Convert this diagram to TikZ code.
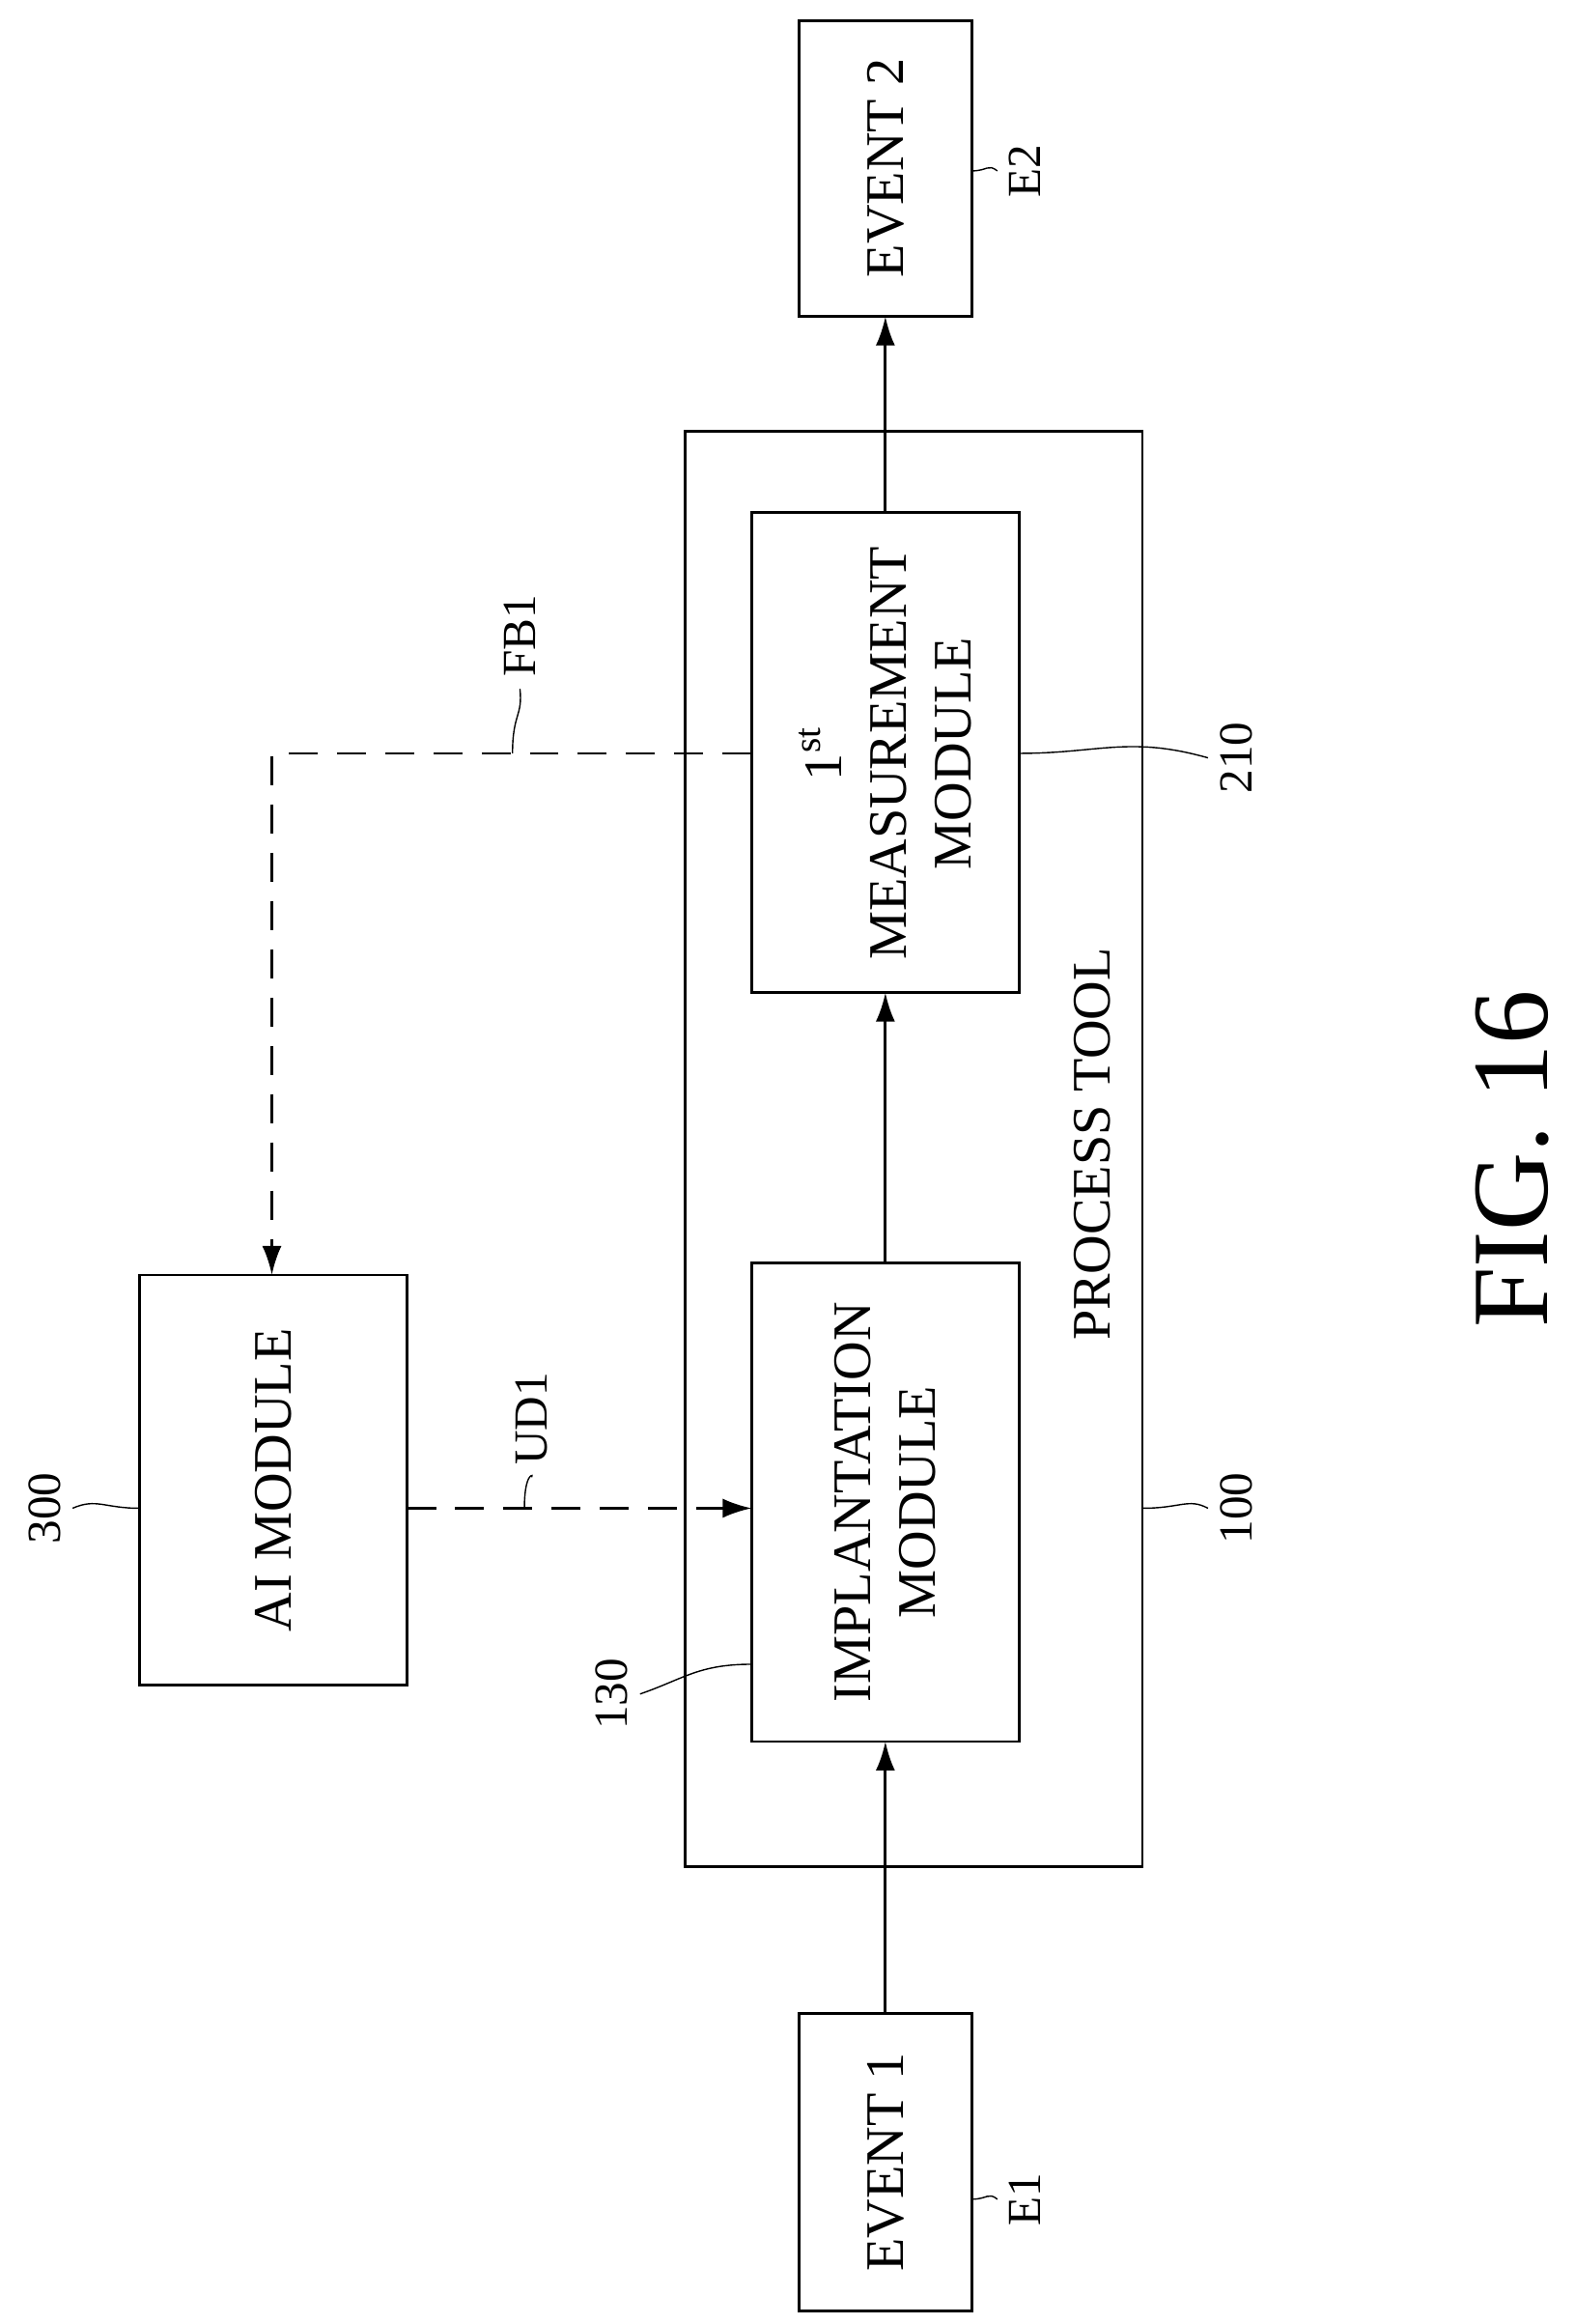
\documentclass[tikz,border=0pt]{standalone}
\usepackage{fontspec}
\setmainfont{Liberation Serif}
\usetikzlibrary{positioning, arrows.meta}

\begin{document}
\begin{tikzpicture}[
        x=0.1539mm, y=-0.1539mm,
        every node/.style={font=\fontsize{16}{19}\selectfont},
        box/.style={rectangle, draw, thick, inner sep=0pt},
        boxtext/.style={rotate=90, align=center},
        lbl/.style={rotate=90, font=\fontsize{14}{16}\selectfont},
        arrow/.style={thick,-{Latex[length=3mm,width=2mm]}},
        dasharrow/.style={arrow, dashed, dash pattern=on 3mm off 2mm},
        leader/.style={thin}
    ]
        \useasboundingbox (0,0) rectangle (1060,1564);

        % Process tool
        \draw[box] (461,290) rectangle (769,1256);
        \coordinate (toolright) at (769,1015);
        \node[boxtext] (tooltxt) at (735,770) {PROCESS TOOL};

        % Modules
        \draw[box] (506,345) rectangle (686,668);
        \node[boxtext] (meas) at (596,507) {1\textsuperscript{st}\\MEASUREMENT\\MODULE};
        \coordinate (meastop) at (596,345);
        \coordinate (measbot) at (596,668);
        \coordinate (measleft) at (506,507);
        \coordinate (measright) at (686,507);

        \draw[box] (506,850) rectangle (686,1172);
        \node[boxtext] (impl) at (596,1011) {IMPLANTATION\\MODULE};
        \coordinate (impltop) at (596,850);
        \coordinate (implbot) at (596,1172);
        \coordinate (implleft) at (506,1015);
        \coordinate (impllead) at (506,1120);

        \draw[box] (94,858) rectangle (274,1134);
        \node[boxtext] (ai) at (184,996) {AI MODULE};
        \coordinate (aitop) at (183,858);
        \coordinate (airight) at (274,1015);
        \coordinate (aileft) at (94,1015);

        % Events
        \draw[box] (538,14) rectangle (654,213);
        \node[boxtext] (ev2) at (596,113) {EVENT 2};
        \coordinate (ev2bot) at (596,213);
        \coordinate (ev2right) at (654,115);

        \draw[box] (538,1355) rectangle (654,1555);
        \node[boxtext] (ev1) at (596,1455) {EVENT 1};
        \coordinate (ev1top) at (596,1355);
        \coordinate (ev1right) at (654,1480);

        % Arrows
        \draw[arrow] (ev1top) -- (implbot);
        \draw[arrow] (impltop) -- (measbot);
        \draw[arrow] (meastop) -- (ev2bot);
        \coordinate (fbcorner) at (183,507);
        \draw[dasharrow] (measleft) -- (fbcorner) -- (aitop);
        \draw[dasharrow] (airight) -- (implleft);

        % Labels
        \node[lbl] (fb1) at (350,428) {FB1};
        \draw[leader] (345,507) .. controls (345,480) and (352,482) .. (fb1.west);
        \node[lbl] (ud1) at (358,955) {UD1};
        \draw[leader] (353,1015) .. controls (353,990) and (360,992) .. (ud1.west);
        \node[lbl] (l300) at (30,1015) {300};
        \draw[leader] (aileft) .. controls (70,1015) and (65,1008) .. (l300.south);
        \node[lbl] (l130) at (412,1140) {130};
        \draw[leader] (impllead) .. controls (470,1120) and (460,1130) .. (l130.south);
        \node[lbl] (l100) at (832,1015) {100};
        \draw[leader] (toolright) .. controls (795,1015) and (800,1008) .. (l100.north);
        \node[lbl] (l210) at (832,510) {210};
        \draw[leader] (measright) .. controls (740,507) and (760,495) .. (l210.north);
        \node[lbl] (le2) at (690,115) {E2};
        \draw[leader] (ev2right) .. controls (665,115) and (665,110) .. (le2.north);
        \node[lbl] (le1) at (690,1480) {E1};
        \draw[leader] (ev1right) .. controls (665,1480) and (665,1475) .. (le1.north);

        % Figure title
        \node[rotate=90, font=\fontsize{32}{38}\selectfont] (fig) at (1018,780) {FIG. 16};
\end{tikzpicture}
\end{document}
